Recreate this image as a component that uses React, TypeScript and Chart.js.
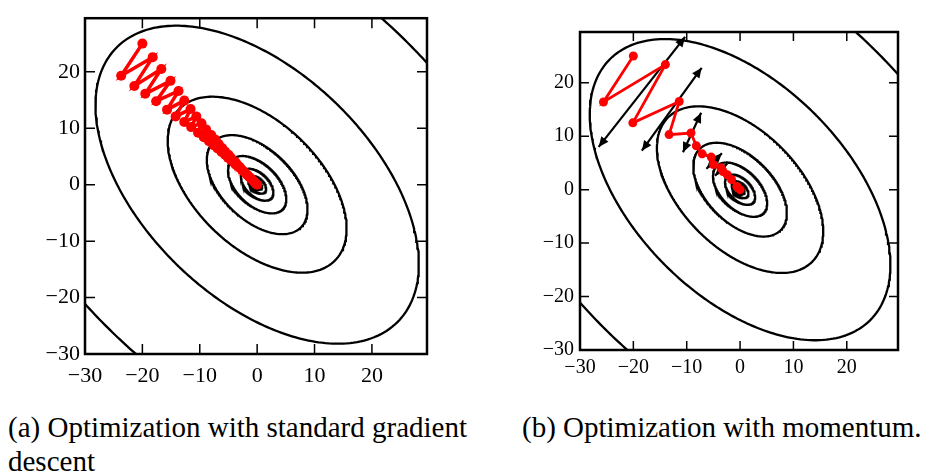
import React, { useEffect, useRef } from "react";
import { Chart, registerables } from "chart.js";

Chart.register(...registerables);

// Quadratic bowl f(x, y) = A·x² + B·x·y + C·y²
const bowlCoefficients = [1, 1, 1];
// Where each drawn contour crosses the positive x axis (y = 0)
const contourRadii = [44.5, 24.4, 13.5, 7.6, 4.4, 2.45, 1.36, 0.75, 0.42];

const tickValues = [-30, -20, -10, 0, 10, 20];
const axisMin = -30;
const xAxisMax = 29.6;
const yAxisMax = 29.5;

// (a) standard gradient descent path
const sgdX = [
  -20, -23.7, -18.2, -21.4, -16.7, -19.5, -15.1, -17.6, -13.7, -15.7,
  -12.7, -14.2, -11.6, -12.7, -10.6, -11.5, -9.7, -10.3, -8.9, -9.3,
  -8.0, -8.4, -7.3, -7.6, -6.7, -6.9, -6.1, -6.2, -5.6, -5.6,
  -5.0, -5.1, -4.6, -4.6, -4.2, -4.1, -3.8, -3.8, -3.5, -3.4,
  -3.1, -3.0, -2.9, -2.6, -2.3, -2.0, -1.7, -1.4, -1.1, -0.8,
  -0.5, -0.25, 0,
];
const sgdY = [
  25, 19.3, 22.6, 17.5, 20.5, 16.1, 18.4, 14.8, 16.6, 13.3,
  14.9, 12.1, 13.4, 11.1, 12.1, 10.2, 10.9, 9.2, 9.8, 8.4,
  8.8, 7.7, 8.0, 7.0, 7.2, 6.4, 6.5, 5.8, 5.9, 5.3,
  5.3, 4.8, 4.8, 4.4, 4.3, 4.0, 4.0, 3.6, 3.6, 3.3,
  3.2, 3.0, 2.9, 2.6, 2.3, 2.0, 1.7, 1.4, 1.1, 0.8,
  0.5, 0.25, 0,
];

// (b) momentum path
const momentumX = [-20, -25.6, -14.0, -20.1, -11.4, -13.3, -9.2, -8.2, -7.1, -5.4, -5.0, -3.6, -3.2, -2.4, -1.6, -0.6, 0];
const momentumY = [25, 16.4, 23.4, 12.5, 16.5, 10.3, 10.6, 8.2, 6.7, 6.1, 4.7, 4.1, 3.4, 2.8, 1.9, 0.6, 0];

// (b) black gradient-step arrows (heads at both ends)
const arrowFromX = [-26.5, -18.4, -10.7, -6.3, -4.7];
const arrowFromY = [8.0, 7.3, 7.0, 3.9, 2.6];
const arrowToX = [-10.3, -7.2, -7.3, -3.4, -2.4];
const arrowToY = [28.6, 22.8, 14.4, 6.8, 4.9];

const captionA = "(a) Optimization with standard gradient descent";
const captionB = "(b) Optimization with momentum.";

const SERIF = "'Liberation Serif', 'DejaVu Serif', serif";

function contourPoints(radius: number) {
  const [A, B, C] = bowlCoefficients;
  const level = A * radius * radius;
  const pts: { x: number; y: number }[] = [];
  for (let i = 0; i <= 360; i += 1) {
    const th = (i * Math.PI) / 180;
    const c = Math.cos(th);
    const s = Math.sin(th);
    const t = Math.sqrt(level / (A * c * c + B * c * s + C * s * s));
    pts.push({ x: t * c, y: t * s });
  }
  return pts;
}

const framePlugin = {
  id: "frame",
  beforeDatasetsDraw(chart: any, _args: any, opts: any) {
    const { ctx } = chart;
    const xs = chart.scales.x;
    const ys = chart.scales.y;
    const arrows = opts.arrows || [];
    ctx.save();
    ctx.fillStyle = "#000";
    const head = (tip: any, from: any) => {
      const ang = Math.atan2(tip.y - from.y, tip.x - from.x);
      const L = 10;
      const W = 4.5;
      const bx = tip.x - L * Math.cos(ang);
      const by = tip.y - L * Math.sin(ang);
      ctx.beginPath();
      ctx.moveTo(tip.x, tip.y);
      ctx.lineTo(bx - W * Math.sin(ang), by + W * Math.cos(ang));
      ctx.lineTo(bx + W * Math.sin(ang), by - W * Math.cos(ang));
      ctx.closePath();
      ctx.fill();
    };
    arrows.forEach((a: any) => {
      const p0 = { x: xs.getPixelForValue(a.x0), y: ys.getPixelForValue(a.y0) };
      const p1 = { x: xs.getPixelForValue(a.x1), y: ys.getPixelForValue(a.y1) };
      head(p1, p0);
      head(p0, p1);
    });
    ctx.restore();
  },
  afterDraw(chart: any, _args: any, opts: any) {
    const { ctx, chartArea: a } = chart;
    const xs = chart.scales.x;
    const ys = chart.scales.y;
    const len = opts.tickLen || 10;
    ctx.save();
    ctx.strokeStyle = "#000";
    ctx.lineWidth = 1.5;
    ctx.beginPath();
    tickValues.forEach((v) => {
      const px = xs.getPixelForValue(v);
      if (px > a.left + 2 && px < a.right - 2) {
        ctx.moveTo(px, a.bottom);
        ctx.lineTo(px, a.bottom - len);
        ctx.moveTo(px, a.top);
        ctx.lineTo(px, a.top + len);
      }
      const py = ys.getPixelForValue(v);
      if (py > a.top + 2 && py < a.bottom - 2) {
        ctx.moveTo(a.left, py);
        ctx.lineTo(a.left + len, py);
        ctx.moveTo(a.right, py);
        ctx.lineTo(a.right - len, py);
      }
    });
    ctx.stroke();
    ctx.lineWidth = 2.5;
    ctx.strokeRect(a.left, a.top, a.right - a.left, a.bottom - a.top);
    ctx.restore();
  },
};

const fmt = (v: any) => {
  const n = Number(v);
  return n < 0 ? "\u2212" + Math.abs(n) : String(n);
};

function buildChart(canvas: HTMLCanvasElement, cfg: any) {
  const datasets: any[] = [];
  datasets.push({
    data: cfg.pathX.map((x: number, i: number) => ({ x, y: cfg.pathY[i] })),
    showLine: true,
    borderColor: "#ff0000",
    borderWidth: cfg.pathWidth,
    pointRadius: cfg.dotRadius,
    pointBackgroundColor: "#ff0000",
    pointBorderWidth: 0,
    tension: 0,
    clip: 0,
  });
  (cfg.arrows || []).forEach((a: any) => {
    datasets.push({
      data: [
        { x: a.x0, y: a.y0 },
        { x: a.x1, y: a.y1 },
      ],
      showLine: true,
      borderColor: "#000",
      borderWidth: 2.2,
      pointRadius: 0,
      tension: 0,
    });
  });
  contourRadii.forEach((r) => {
    datasets.push({
      data: contourPoints(r),
      showLine: true,
      borderColor: "#000",
      borderWidth: 2.3,
      pointRadius: 0,
      tension: 0,
      clip: 0,
    });
  });

  const tickFont = { family: SERIF, size: cfg.fontSize };
  return new Chart(canvas, {
    type: "scatter",
    data: { datasets },
    plugins: [framePlugin],
    options: {
      animation: false,
      responsive: false,
      devicePixelRatio: 1,
      events: [],
      layout: { padding: cfg.padding },
      plugins: {
        legend: { display: false },
        tooltip: { enabled: false },
        frame: { arrows: cfg.arrows || [], tickLen: cfg.tickLen },
      } as any,
      scales: {
        x: {
          type: "linear",
          min: axisMin,
          max: xAxisMax,
          afterBuildTicks: (s: any) => {
            s.ticks = tickValues.map((v) => ({ value: v }));
          },
          afterFit: (s: any) => {
            s.height = cfg.xAxisHeight;
          },
          grid: { display: false, drawTicks: false },
          border: { display: false },
          ticks: {
            color: "#000",
            font: tickFont,
            padding: cfg.xPad,
            maxRotation: 0,
            autoSkip: false,
            callback: fmt,
          },
        },
        y: {
          type: "linear",
          min: axisMin,
          max: yAxisMax,
          afterBuildTicks: (s: any) => {
            s.ticks = tickValues.map((v) => ({ value: v }));
          },
          afterFit: (s: any) => {
            s.width = cfg.yAxisWidth;
          },
          grid: { display: false, drawTicks: false },
          border: { display: false },
          ticks: {
            color: "#000",
            font: tickFont,
            padding: cfg.yPad,
            autoSkip: false,
            callback: fmt,
          },
        },
      },
    } as any,
  });
}

export default function App() {
  const leftRef = useRef<HTMLCanvasElement>(null);
  const rightRef = useRef<HTMLCanvasElement>(null);

  useEffect(() => {
    const arrows = arrowFromX.map((x0, i) => ({
      x0,
      y0: arrowFromY[i],
      x1: arrowToX[i],
      y1: arrowToY[i],
    }));
    const c1 = buildChart(leftRef.current!, {
      pathX: sgdX,
      pathY: sgdY,
      pathWidth: 3.5,
      dotRadius: 5,
      padding: { left: 0, top: 13, right: 18, bottom: 0 },
      xAxisHeight: 46,
      yAxisWidth: 85,
      fontSize: 22,
      xPad: 9,
      yPad: 5,
      tickLen: 10,
    });
    const c2 = buildChart(rightRef.current!, {
      pathX: momentumX,
      pathY: momentumY,
      pathWidth: 2.8,
      dotRadius: 4.5,
      arrows,
      padding: { left: 0, top: 32, right: 27, bottom: 0 },
      xAxisHeight: 50,
      yAxisWidth: 60,
      fontSize: 20,
      xPad: 6,
      yPad: 6,
      tickLen: 9,
    });
    return () => {
      c1.destroy();
      c2.destroy();
    };
  }, []);

  const captionStyle: React.CSSProperties = {
    position: "absolute",
    fontFamily: SERIF,
    fontSize: "29px",
    lineHeight: "34px",
    color: "#000",
    margin: 0,
    whiteSpace: "normal",
  };

  return (
    <div
      style={{
        position: "fixed",
        left: 0,
        top: 0,
        width: 925,
        height: 475,
        background: "#fff",
        overflow: "hidden",
      }}
    >
      <canvas
        ref={leftRef}
        width={445}
        height={400}
        style={{ position: "absolute", left: 0, top: 0, width: 445, height: 400 }}
      />
      <canvas
        ref={rightRef}
        width={405}
        height={400}
        style={{ position: "absolute", left: 520, top: 0, width: 405, height: 400 }}
      />
      <div style={{ ...captionStyle, left: 8, top: 410, width: 478 }}>{captionA}</div>
      <div style={{ ...captionStyle, left: 522, top: 410, whiteSpace: "nowrap" }}>{captionB}</div>
    </div>
  );
}
